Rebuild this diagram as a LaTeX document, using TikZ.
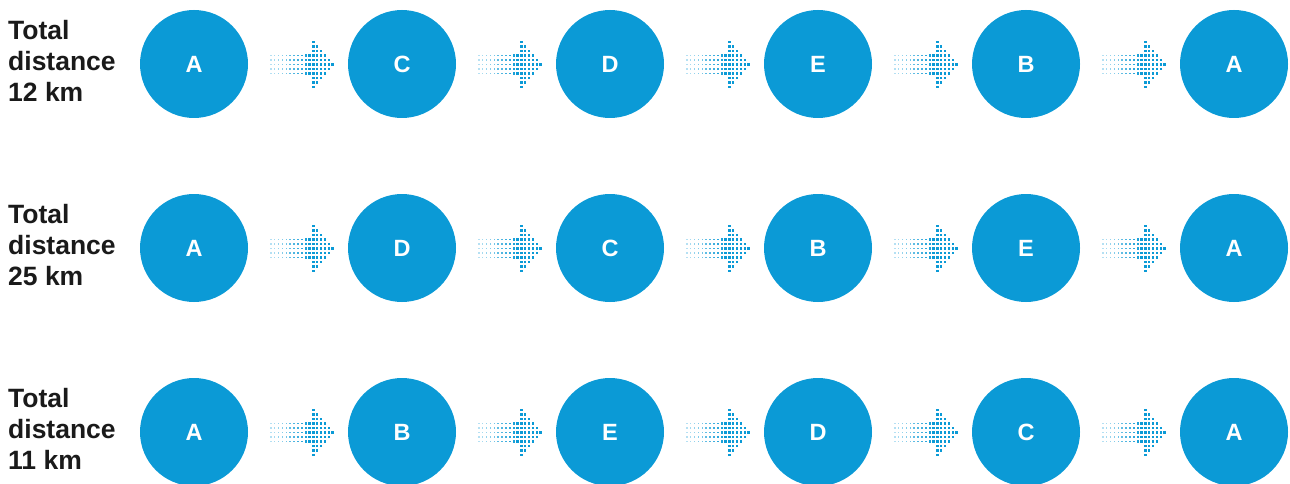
\documentclass[tikz,border=0pt]{standalone}
\usepackage{fontspec}
\setmainfont{Liberation Sans}
\usetikzlibrary{calc}
\definecolor{blu}{RGB}{11,154,214}
\definecolor{ink}{RGB}{26,26,26}
\tikzset{
  stop/.style={circle, fill=blu, minimum size=108pt, inner sep=0pt, text=white,
    font=\fontsize{23.5}{26}\selectfont\bfseries},
  lab/.style={anchor=west, align=left, text=ink, inner sep=0pt,
    font=\fontsize{26.5}{31}\selectfont\bfseries},
  dotarrow/.pic={
    \foreach \j in {0,...,10}{
      \pgfmathsetmacro\op{0.3+0.07*\j}
      \pgfmathsetmacro\s{0.55+0.055*\j}
      \foreach \i in {-2,...,2}{
        \fill[blu,opacity=\op] (-29+3.85*\j-\s, 4.5*\i-\s) rectangle ++(2*\s,2*\s);
      }
    }
    \foreach \j in {11,...,16}{
      \pgfmathtruncatemacro\h{16-\j}
      \foreach \i in {-\h,...,\h}{
        \fill[blu] (-29+3.85*\j-1.15, 4.5*\i-1.15) rectangle ++(2.3,2.3);
      }
    }
  }
}
\begin{document}
\begin{tikzpicture}[x=1pt,y=-1pt]
\useasboundingbox (0,0) rectangle (1290,484);
% row 1
\node[lab] (l1) at (8,61) {Total\\distance\\12 km};
\node[stop] (a1) at (194,64) {A};
\node[stop] (b1) at (402,64) {C};
\node[stop] (c1) at (610,64) {D};
\node[stop] (d1) at (818,64) {E};
\node[stop] (e1) at (1026,64) {B};
\node[stop] (f1) at (1234,64) {A};
% row 2
\node[lab] (l2) at (8,245) {Total\\distance\\25 km};
\node[stop] (a2) at (194,248) {A};
\node[stop] (b2) at (402,248) {D};
\node[stop] (c2) at (610,248) {C};
\node[stop] (d2) at (818,248) {B};
\node[stop] (e2) at (1026,248) {E};
\node[stop] (f2) at (1234,248) {A};
% row 3
\node[lab] (l3) at (8,429) {Total\\distance\\11 km};
\node[stop] (a3) at (194,432) {A};
\node[stop] (b3) at (402,432) {B};
\node[stop] (c3) at (610,432) {E};
\node[stop] (d3) at (818,432) {D};
\node[stop] (e3) at (1026,432) {C};
\node[stop] (f3) at (1234,432) {A};
% arrows
\foreach \r in {1,2,3}{
  \foreach \p/\q in {a/b,b/c,c/d,d/e,e/f}{
    \path ($(\p\r)!0.5!(\q\r)$) ++(2,0.5) pic {dotarrow};
  }
}
\end{tikzpicture}
\end{document}
